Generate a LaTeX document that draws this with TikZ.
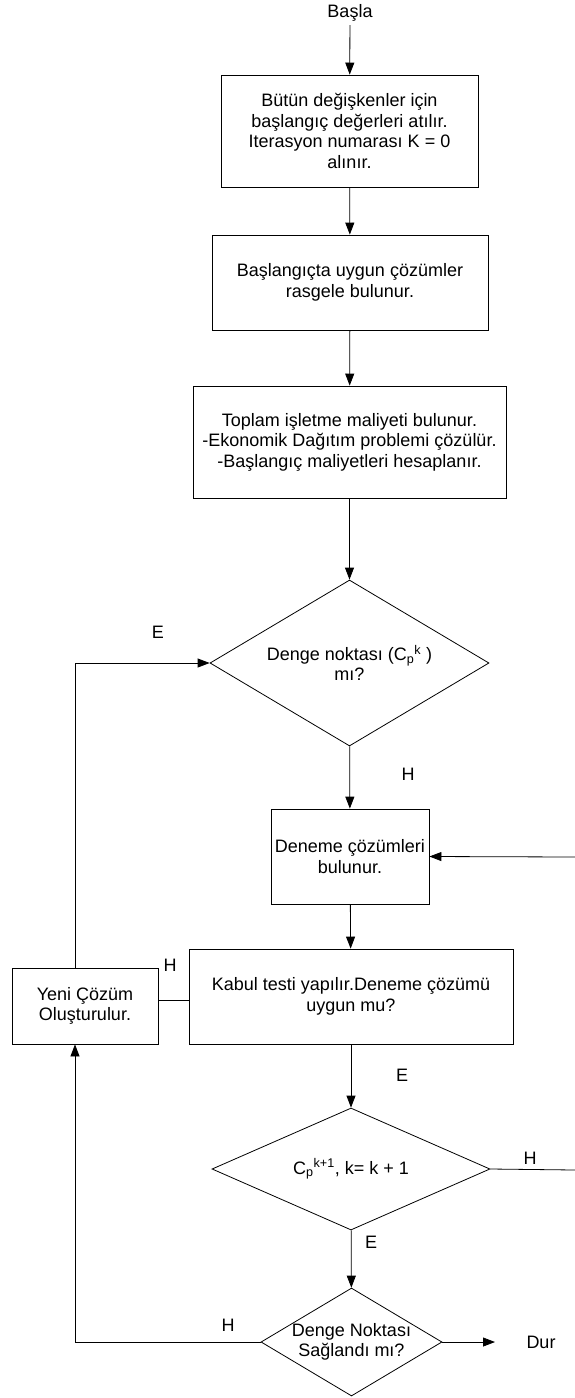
\documentclass[tikz,border=0pt]{standalone}
\usepackage{fontspec}
\setmainfont{Liberation Sans}
\usetikzlibrary{arrows.meta,positioning,shapes.geometric}

\begin{document}
\begin{tikzpicture}[x=1pt,y=-1pt,line width=0.8pt,
  every node/.style={font=\fontsize{18}{20.5}\selectfont},
  box/.style={rectangle, draw, align=center, inner sep=0pt},
  dec/.style={diamond, draw, align=center, inner sep=0pt},
  arr/.style={-{Triangle[length=12pt,width=9pt]}}]
\useasboundingbox (0,0) rectangle (575,1398);
% start and boxes
\node (basla) at (350,13) {Başla};
\node[box, minimum width=257pt, minimum height=112pt] (b1) at (349.5,131) {Bütün değişkenler için\\başlangıç değerleri atılır.\\Iterasyon numarası K = 0\\alınır.};
\node[box, minimum width=276pt, minimum height=95pt] (b2) at (350,282.5) {Başlangıçta uygun çözümler\\rasgele bulunur.};
\node[box, minimum width=313pt, minimum height=112pt] (b3) at (349.5,442) {Toplam işletme maliyeti bulunur.\\-Ekonomik Dağıtım problemi çözülür.\\-Başlangıç maliyetleri hesaplanır.};
\node[dec, minimum width=279pt, minimum height=166pt, aspect=1.68] (d1) at (349.5,663) {Denge noktası (C\textsubscript{p}\textsuperscript{k} )\\mı?};
\node[box, minimum width=158pt, minimum height=95pt] (b4) at (350,856.5) {Deneme çözümleri\\bulunur.};
\node[box, minimum width=324pt, minimum height=95pt] (b5) at (351,996.5) {Kabul testi yapılır.Deneme çözümü\\uygun mu?};
\node[box, minimum width=146pt, minimum height=76pt] (yeni) at (85,1006) {Yeni Çözüm\\Oluşturulur.};
\node[dec, minimum width=278pt, minimum height=122pt, aspect=2.28] (d2) at (351,1169) {C\textsubscript{p}\textsuperscript{k+1}, k= k + 1};
\node[dec, minimum width=181pt, minimum height=108pt, aspect=1.68,
  label={[align=center]center:Denge Noktası\\Sağlandı mı?}] (d3) at (351.5,1342) {};
\node (dur) at (541,1342) {Dur};
\coordinate (rin) at (575,857);
\coordinate (rout) at (575,1170);

% main flow
\draw[arr] (basla) -- (b1);
\draw[arr] (b1) -- (b2);
\draw[arr] (b2) -- (b3);
\draw[arr] (b3) -- (d1);
\draw[arr] (d1) -- (b4);
\draw[arr] (b4) -- (b5);
\draw[arr] (b5) -- (d2);
\draw[arr] (d2) -- (d3);
\draw[arr] (d3.east) -- ([xshift=-46pt]dur.center);

% side branches
\draw[arr] ([xshift=-10pt]yeni.north) |- (d1.west);
\draw[arr] (d3.west) -| ([xshift=-10pt]yeni.south);
\draw ([yshift=6pt]yeni.east) -- ([yshift=6pt]yeni.east -| b5.west);
\draw[arr] (rin) -- (b4.east);
\draw (d2.east) -- (rout);

% labels
\node (le1) at (158,632) {E};
\node (lh1) at (408,774) {H};
\node (lh2) at (170,965) {H};
\node (le2) at (402,1075) {E};
\node (lh3) at (530,1158) {H};
\node (le3) at (371,1242) {E};
\node (lh4) at (228,1325) {H};
\end{tikzpicture}
\end{document}
